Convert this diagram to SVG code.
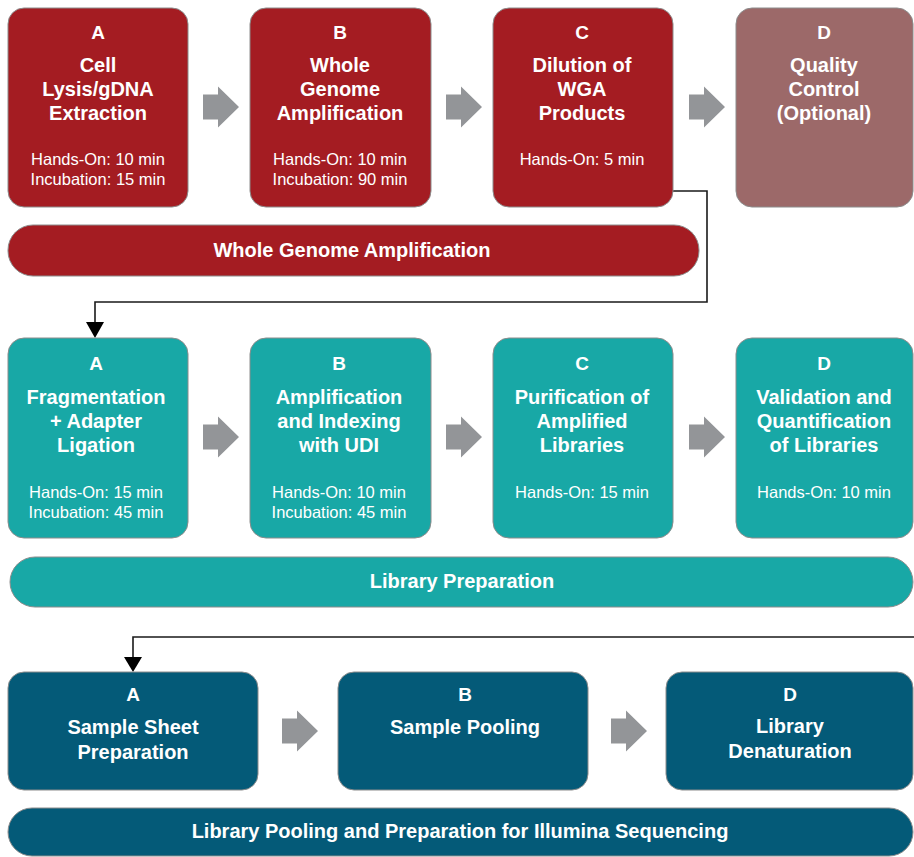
<svg xmlns="http://www.w3.org/2000/svg" width="914" height="857" viewBox="0 0 914 857">
<defs>
<style>
.box{stroke:#8c8c8c;stroke-width:1}
.red{fill:#a41c22}
.qc{fill:#9c6969}
.teal{fill:#18a8a6}
.blue{fill:#045a78}
.t{font-family:"Liberation Sans",Arial,sans-serif;fill:#fff;text-anchor:middle}
.L{font-size:19px;font-weight:bold}
.T{font-size:20px;font-weight:bold}
.H{font-size:16.5px}
.B{font-size:20px;font-weight:bold}
.ga{fill:#939598}
.conn{fill:none;stroke:#1a1a1a;stroke-width:1.6}
</style>
<marker id="ah" viewBox="0 0 18 15" refX="9" refY="15" markerWidth="18" markerHeight="15" markerUnits="userSpaceOnUse" orient="auto-start-reverse">
<path d="M0,0 L18,0 L9,15 Z" fill="#000"/>
</marker>
<path id="garrow" d="M0,-12.5 H15 V-20.5 L36,0 L15,20.5 V12.5 H0 Z"/>
</defs>
<rect width="914" height="857" fill="#fff"/>

<g id="connectors">
<path class="conn" d="M673,191 H707 V302 H95 V322"/>
<path d="M86,322 L104,322 L95,338 Z" fill="#000"/>
<path class="conn" d="M914,637 H133 V657"/>
<path d="M124,657 L142,657 L133,672 Z" fill="#000"/>
<use href="#garrow" class="ga" x="203" y="107"/>
<use href="#garrow" class="ga" x="446" y="107"/>
<use href="#garrow" class="ga" x="689" y="107"/>
<use href="#garrow" class="ga" x="203" y="437"/>
<use href="#garrow" class="ga" x="446" y="437"/>
<use href="#garrow" class="ga" x="689" y="437"/>
<use href="#garrow" class="ga" x="282" y="731"/>
<use href="#garrow" class="ga" x="611" y="731"/>
</g>

<g id="wga-a">
<rect class="box red" x="8" y="8" width="180" height="199" rx="16"/>
<text class="t L" x="98" y="39">A</text>
<text class="t T" x="98" y="72">Cell</text>
<text class="t T" x="98" y="96">Lysis/gDNA</text>
<text class="t T" x="98" y="120">Extraction</text>
<text class="t H" x="98" y="165">Hands-On: 10 min</text>
<text class="t H" x="98" y="185">Incubation: 15 min</text>
</g>
<g id="wga-b">
<rect class="box red" x="250" y="8" width="181" height="199" rx="16"/>
<text class="t L" x="340" y="39">B</text>
<text class="t T" x="340" y="72">Whole</text>
<text class="t T" x="340" y="96">Genome</text>
<text class="t T" x="340" y="120">Amplification</text>
<text class="t H" x="340" y="165">Hands-On: 10 min</text>
<text class="t H" x="340" y="185">Incubation: 90 min</text>
</g>
<g id="wga-c">
<rect class="box red" x="493" y="8" width="180" height="199" rx="16"/>
<text class="t L" x="582" y="39">C</text>
<text class="t T" x="582" y="72">Dilution of</text>
<text class="t T" x="582" y="96">WGA</text>
<text class="t T" x="582" y="120">Products</text>
<text class="t H" x="582" y="165">Hands-On: 5 min</text>
</g>
<g id="wga-d">
<rect class="box qc" x="736" y="8" width="177" height="199" rx="16"/>
<text class="t L" x="824" y="39">D</text>
<text class="t T" x="824" y="72">Quality</text>
<text class="t T" x="824" y="96">Control</text>
<text class="t T" x="824" y="120">(Optional)</text>
</g>
<g id="band-wga">
<rect class="box red" x="8" y="225" width="691" height="51" rx="25"/>
<text class="t B" x="352" y="257">Whole Genome Amplification</text>
</g>

<g id="lib-a">
<rect class="box teal" x="8" y="338" width="180" height="200" rx="16"/>
<text class="t L" x="96" y="370">A</text>
<text class="t T" x="96" y="404">Fragmentation</text>
<text class="t T" x="96" y="428">+ Adapter</text>
<text class="t T" x="96" y="452">Ligation</text>
<text class="t H" x="96" y="498">Hands-On: 15 min</text>
<text class="t H" x="96" y="518">Incubation: 45 min</text>
</g>
<g id="lib-b">
<rect class="box teal" x="250" y="338" width="181" height="200" rx="16"/>
<text class="t L" x="339" y="370">B</text>
<text class="t T" x="339" y="404">Amplification</text>
<text class="t T" x="339" y="428">and Indexing</text>
<text class="t T" x="339" y="452">with UDI</text>
<text class="t H" x="339" y="498">Hands-On: 10 min</text>
<text class="t H" x="339" y="518">Incubation: 45 min</text>
</g>
<g id="lib-c">
<rect class="box teal" x="493" y="338" width="180" height="200" rx="16"/>
<text class="t L" x="582" y="370">C</text>
<text class="t T" x="582" y="404">Purification of</text>
<text class="t T" x="582" y="428">Amplified</text>
<text class="t T" x="582" y="452">Libraries</text>
<text class="t H" x="582" y="498">Hands-On: 15 min</text>
</g>
<g id="lib-d">
<rect class="box teal" x="736" y="338" width="177" height="200" rx="16"/>
<text class="t L" x="824" y="370">D</text>
<text class="t T" x="824" y="404">Validation and</text>
<text class="t T" x="824" y="428">Quantification</text>
<text class="t T" x="824" y="452">of Libraries</text>
<text class="t H" x="824" y="498">Hands-On: 10 min</text>
</g>
<g id="band-lib">
<rect class="box teal" x="10" y="557" width="903" height="50" rx="25"/>
<text class="t B" x="462" y="588">Library Preparation</text>
</g>

<g id="pool-a">
<rect class="box blue" x="8" y="672" width="250" height="118" rx="16"/>
<text class="t L" x="133" y="701">A</text>
<text class="t T" x="133" y="734">Sample Sheet</text>
<text class="t T" x="133" y="759">Preparation</text>
</g>
<g id="pool-b">
<rect class="box blue" x="338" y="672" width="250" height="118" rx="16"/>
<text class="t L" x="465" y="701">B</text>
<text class="t T" x="465" y="734">Sample Pooling</text>
</g>
<g id="pool-d">
<rect class="box blue" x="666" y="672" width="247" height="118" rx="16"/>
<text class="t L" x="790" y="701">D</text>
<text class="t T" x="790" y="733">Library</text>
<text class="t T" x="790" y="758">Denaturation</text>
</g>
<g id="band-pool">
<rect class="box blue" x="8" y="808" width="905" height="48" rx="24"/>
<text class="t B" x="460" y="838">Library Pooling and Preparation for Illumina Sequencing</text>
</g>
</svg>
